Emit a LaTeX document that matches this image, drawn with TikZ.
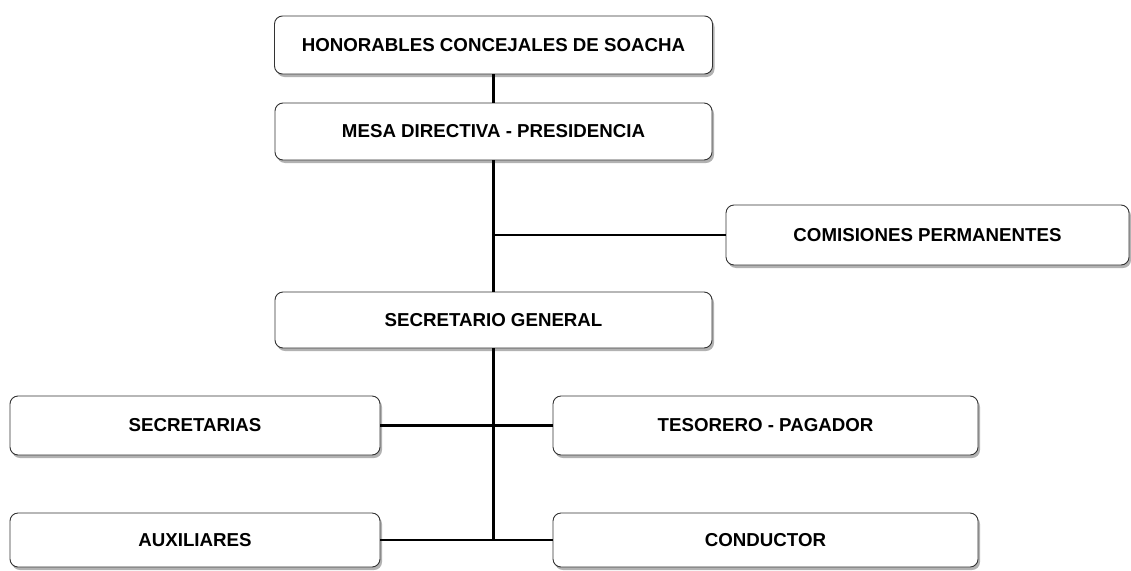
\documentclass[tikz,border=0pt]{standalone}
\usepackage{fontspec}
\setmainfont{Liberation Sans}
\usetikzlibrary{shadows}
\begin{document}
\begin{tikzpicture}[x=1pt,y=-1pt,
		caja/.style={draw=black!80, line width=0.9pt, rounded corners=8pt, fill=white,
			drop shadow={shadow xshift=2pt, shadow yshift=-3pt, fill=gray!60, opacity=1},
			inner sep=0pt, font=\bfseries\fontsize{18.7}{21}\selectfont},
		linea/.style={line width=2.6pt, black}]
		\useasboundingbox (0,0) rectangle (1131,570);
		
		% Cajas
		\node[caja, minimum width=438pt, minimum height=58pt] (hon) at (493.5,45) {HONORABLES CONCEJALES DE SOACHA};
		\node[caja, minimum width=437pt, minimum height=57pt] (mesa) at (493.5,131.5) {MESA DIRECTIVA - PRESIDENCIA};
		\node[caja, minimum width=403pt, minimum height=60pt] (com) at (927.5,235) {COMISIONES PERMANENTES};
		\node[caja, minimum width=437pt, minimum height=56pt] (sec) at (493.5,320) {SECRETARIO GENERAL};
		\node[caja, minimum width=370pt, minimum height=59pt] (secr) at (195,425.5) {SECRETARIAS};
		\node[caja, minimum width=425pt, minimum height=59pt] (tes) at (765.5,425.5) {TESORERO - PAGADOR};
		\node[caja, minimum width=370pt, minimum height=54pt] (aux) at (195,540) {AUXILIARES};
		\node[caja, minimum width=425pt, minimum height=54pt] (cond) at (765.5,540) {CONDUCTOR};
		
		% Puntos
		\coordinate (c1) at (hon.south |- com.west);
		\coordinate (c2) at (hon.south |- aux.east);
		
		% Segmentos
		\draw[linea] (hon.south) -- (mesa.north);
		\draw[linea] (mesa.south) -- (sec.north);
		\draw[linea] (c1) -- (com.west);
		\draw[linea] (sec.south) -- (c2);
		\draw[linea] (secr.east) -- (tes.west);
		\draw[linea] (aux.east) -- (cond.west);
	\end{tikzpicture}
\end{document}
